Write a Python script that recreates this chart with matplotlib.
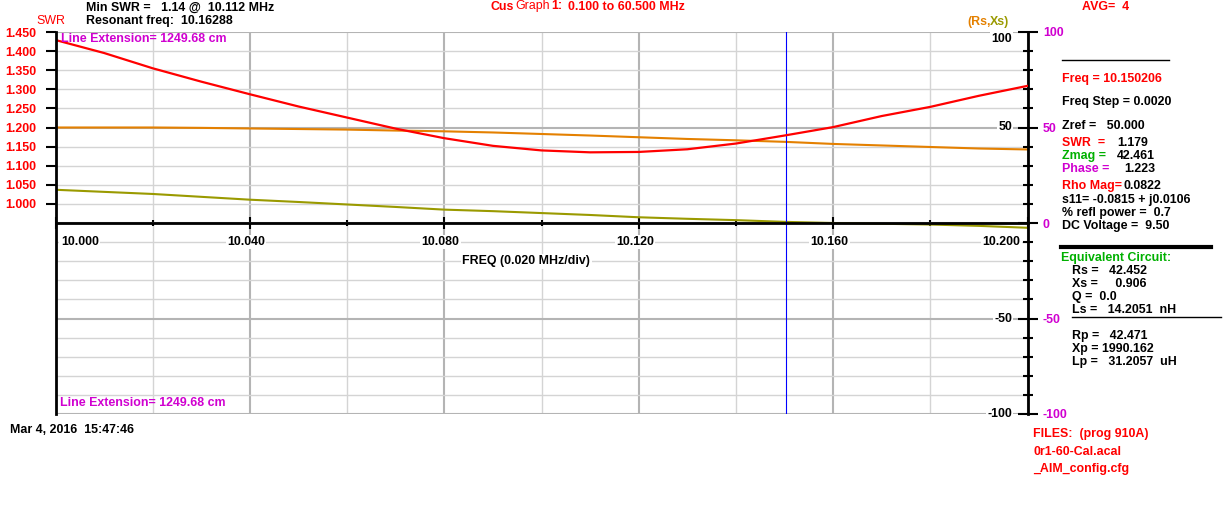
import numpy as np
import matplotlib
matplotlib.use('Agg')
import matplotlib.pyplot as plt
from matplotlib.lines import Line2D
from matplotlib.ticker import MultipleLocator, FixedLocator, FormatStrFormatter

# sweep data
freq = [10.000, 10.010, 10.020, 10.030, 10.040, 10.050, 10.060, 10.070,
        10.080, 10.090, 10.100, 10.110, 10.120, 10.130, 10.140, 10.150,
        10.160, 10.170, 10.180, 10.190, 10.200]
swr = [1.429, 1.395, 1.355, 1.320, 1.287, 1.255, 1.226, 1.197,
       1.172, 1.152, 1.140, 1.135, 1.136, 1.143, 1.158, 1.179,
       1.201, 1.230, 1.254, 1.283, 1.309]
rs = [50.0, 50.0, 50.0, 49.8, 49.5, 49.2, 48.9, 48.4,
      48.0, 47.4, 46.6, 45.8, 44.9, 44.0, 43.3, 42.5,
      41.4, 40.6, 39.8, 39.0, 38.5]
xs = [17.4, 16.3, 15.2, 13.7, 12.2, 11.0, 9.7, 8.4,
      7.0, 6.2, 5.2, 4.2, 3.0, 2.2, 1.5, 0.6,
      0.0, -0.4, -0.8, -1.5, -2.5]

freq_ticks = [10.000, 10.040, 10.080, 10.120, 10.160, 10.200]
swr_ticks = [1.000, 1.050, 1.100, 1.150, 1.200, 1.250, 1.300, 1.350, 1.400, 1.450]
z_inner_labels = [100, 50, -50, -100]
cursor_freq = 10.150206

W, H = 1225, 530
FS = 8.9
RED = '#ff0000'
MAG = '#d000d0'
GRN = '#00b000'
ORG = '#e48000'
OLV = '#9a9a00'

plt.rcParams['font.family'] = ['Liberation Sans', 'DejaVu Sans']
plt.rcParams['axes.unicode_minus'] = False

fig = plt.figure(figsize=(W / 100, H / 100), dpi=100)
fig.patch.set_facecolor('white')

ax_z = fig.add_axes([55.5 / W, 1 - 414 / H, 972 / W, 382 / H])
ax_swr = ax_z.twinx()
ax_swr.set_zorder(ax_z.get_zorder() + 1)
ax_swr.patch.set_visible(False)
ax_z.patch.set_visible(True)
ax_z.patch.set_facecolor('white')

ax_z.set_xlim(10.0, 10.2)
ax_z.set_ylim(-100, 100)
ax_swr.set_ylim(0.45, 1.45)

# grid
ax_z.xaxis.set_major_locator(FixedLocator(freq_ticks))
ax_z.xaxis.set_minor_locator(MultipleLocator(0.02))
ax_z.yaxis.set_major_locator(MultipleLocator(50))
ax_z.yaxis.set_minor_locator(MultipleLocator(10))
ax_z.grid(which='major', color='#b4b4b4', lw=1.5)
ax_z.grid(which='minor', color='#d4d4d4', lw=1.0)

# spines
for s in ['left', 'top']:
    ax_z.spines[s].set_visible(False)
ax_z.spines['bottom'].set_position(('data', 0))
ax_z.spines['bottom'].set_linewidth(2)
ax_z.spines['right'].set_linewidth(2)
for s in ['right', 'top', 'bottom']:
    ax_swr.spines[s].set_visible(False)
ax_swr.spines['left'].set_linewidth(2)

ax_z.tick_params(axis='x', which='major', direction='inout', length=8, width=1.5,
                 labelbottom=False)
ax_z.tick_params(axis='x', which='minor', direction='inout', length=4, width=1.5)
ax_z.yaxis.tick_right()
ax_z.tick_params(axis='y', which='major', direction='inout', length=14, width=1.5,
                 pad=4, labelcolor=MAG, labelsize=FS)
ax_z.tick_params(axis='y', which='minor', direction='inout', length=7, width=1.5)
for lab in ax_z.get_yticklabels():
    lab.set_fontweight('bold')

ax_swr.yaxis.tick_left()
ax_swr.set_yticks(swr_ticks)
ax_swr.yaxis.set_major_formatter(FormatStrFormatter('%.3f'))
ax_swr.tick_params(axis='y', direction='out', length=7, width=1.5, pad=7,
                   labelcolor=RED, labelsize=FS)
for lab in ax_swr.get_yticklabels():
    lab.set_fontweight('bold')

# curves
ax_z.plot(freq, rs, color=ORG, lw=1.5, zorder=2)
ax_z.plot(freq, xs, color=OLV, lw=1.5, zorder=2)
ax_z.axvline(cursor_freq, color='#0000ff', lw=0.8, zorder=2)
ax_swr.plot(freq, swr, color=RED, lw=1.6)

box = dict(facecolor='white', edgecolor='none', pad=1)
for v in z_inner_labels:
    yy = 96.3 if v == 100 else v
    ax_z.text(10.1968, yy, str(v), ha='right', va='center', fontsize=FS,
              fontweight='bold', bbox=box, zorder=3)

for i, f in enumerate(freq_ticks):
    if i == 0:
        xx, ha = f + 0.0011, 'left'
    elif i == len(freq_ticks) - 1:
        xx, ha = f - 0.0015, 'right'
    else:
        xx, ha = f - 0.0008, 'center'
    ax_z.text(xx, -10, '%.3f' % f, ha=ha, va='center', fontsize=FS,
              fontweight='bold', bbox=box, zorder=3)
ax_z.text(10.0837, -20, 'FREQ (0.020 MHz/div)', ha='left', va='center',
          fontsize=FS, fontweight='bold', bbox=box, zorder=3)


def ftext(x, y, s, color='black', weight='bold', size=FS):
    fig.text(x / W, 1 - y / H, s, color=color, fontsize=size, fontweight=weight,
             ha='left', va='center')


def fline(x0, x1, y, lw):
    fig.add_artist(Line2D([x0 / W, x1 / W], [1 - y / H, 1 - y / H],
                          transform=fig.transFigure, color='black', lw=lw))


# header
ftext(86, 7.5, 'Min SWR =   1.14 @  10.112 MHz')
ftext(86, 21, 'Resonant freq:  10.16288')
ftext(36, 20.5, 'SWR', RED, weight='normal')
ftext(491, 7.5, 'Cus', RED)
ftext(515, 6, 'Graph', RED, weight='normal')
ftext(551, 6, '1:', RED)
ftext(568, 7.5, '0.100 to 60.500 MHz', RED)
ftext(1082, 7, 'AVG=  4', RED)
ftext(967, 22, '(Rs,', ORG)
ftext(990, 22, 'Xs)', OLV)
ftext(61, 39, 'Line Extension= 1249.68 cm', MAG)
ftext(60, 403, 'Line Extension= 1249.68 cm', MAG)
ftext(10, 430, 'Mar 4, 2016  15:47:46')

# readout panel
fline(1062, 1169, 60, 1.0)
ftext(1062, 79, 'Freq = 10.150206', RED)
ftext(1062, 102, 'Freq Step = 0.0020')
ftext(1062, 126, 'Zref =   50.000')
ftext(1062, 143, 'SWR  =', RED)
ftext(1117, 143, '1.179')
ftext(1062, 156, 'Zmag =', GRN)
ftext(1117, 156, '42.461')
ftext(1062, 169, 'Phase =', MAG)
ftext(1124, 169, '1.223')
ftext(1062, 186, 'Rho Mag=', RED)
ftext(1124, 186, '0.0822')
ftext(1062, 200, 's11= -0.0815 + j0.0106')
ftext(1062, 213, '% refl power =  0.7')
ftext(1062, 226, 'DC Voltage =  9.50')
fline(1061, 1211, 247, 3.0)
ftext(1061, 258, 'Equivalent Circuit:', GRN)
ftext(1072, 271, 'Rs =   42.452')
ftext(1072, 284, 'Xs =     0.906')
ftext(1072, 297, 'Q =  0.0')
ftext(1072, 310, 'Ls =   14.2051  nH')
fline(1072, 1221, 317, 1.0)
ftext(1072, 336, 'Rp =   42.471')
ftext(1072, 349, 'Xp = 1990.162')
ftext(1072, 362, 'Lp =   31.2057  uH')
ftext(1033, 434, 'FILES:  (prog 910A)', RED)
ftext(1033, 452, '0r1-60-Cal.acal', RED)
ftext(1033, 469, '_AIM_config.cfg', RED)

fig.savefig('out.png', dpi=100)
